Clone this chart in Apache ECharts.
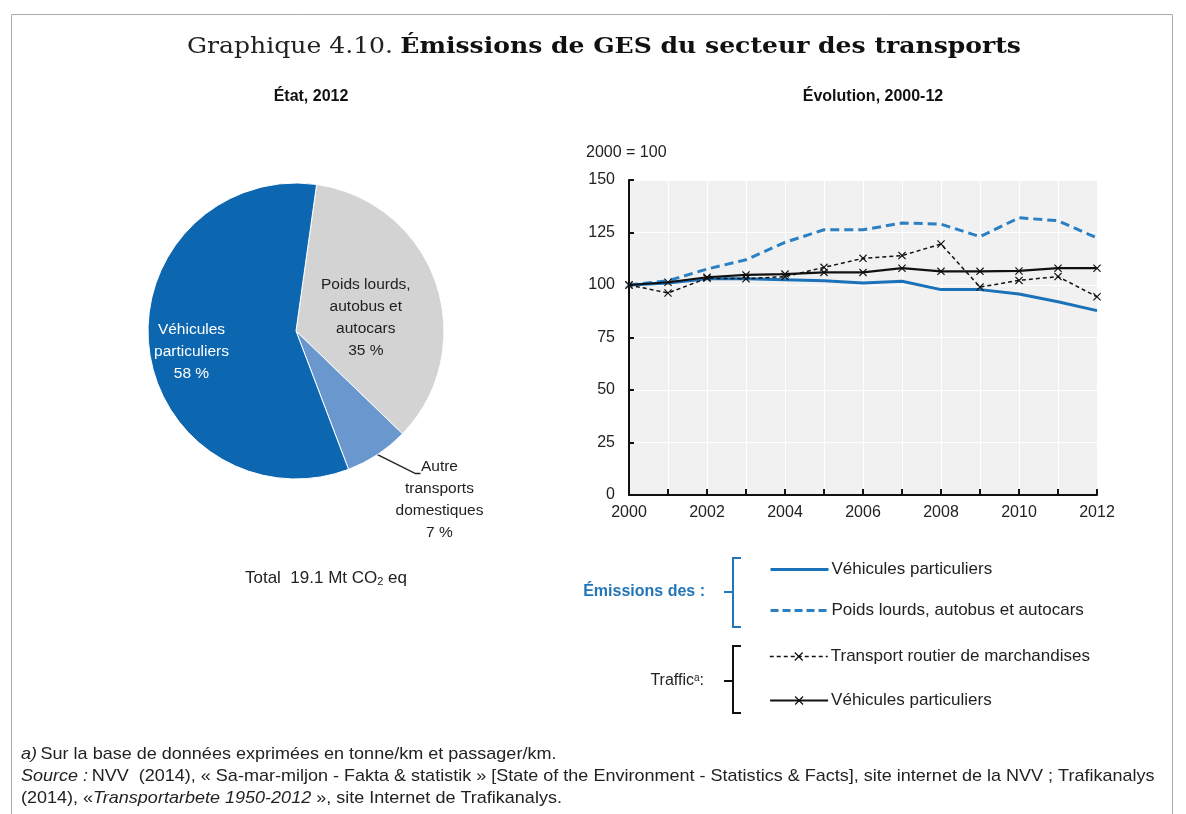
<!DOCTYPE html>
<html><head><meta charset="utf-8">
<script src="https://cdn.jsdelivr.net/npm/echarts@6/dist/echarts.min.js"></script>
<style>html,body{margin:0;padding:0;background:#fff}#c{width:1186px;height:814px}</style>
</head><body><div id="c"></div>
<script>
// ---- Data ----
const years = ['2000','2001','2002','2003','2004','2005','2006','2007','2008','2009','2010','2011','2012'];
const emissionsVehicules = [100, 101, 103, 103, 102.5, 102, 101, 101.8, 97.8, 97.8, 95.7, 92, 87.8];
const emissionsPoidsLourds = [100, 102, 107.6, 112, 120.3, 126.3, 126.3, 129.5, 129, 123, 132, 130.6, 122.4];
const traficMarchandises = [100, 96.2, 103.2, 103, 104, 108.4, 112.7, 114, 119.5, 99, 102.2, 104, 94.4];
const traficVehicules = [100, 101.3, 103.7, 104.8, 105.2, 106, 106, 108, 106.5, 106.5, 106.7, 108, 108];
const pieNames = ['Poids lourds, autobus et autocars', 'Autre transports domestiques', 'Véhicules particuliers'];
const pieLabels = ['Poids lourds,\nautobus et\nautocars\n35 %', 'Autre\ntransports\ndomestiques\n7 %', 'Véhicules\nparticuliers\n58 %'];
const pieValues = [35, 7, 58];
const yMin = 0, yMax = 150, yStep = 25;

const SANS = 'Liberation Sans, Arial, sans-serif';
const SERIF = 'DejaVu Serif, serif';
const X_SYMBOL = 'path://M1,0L5,4L9,0L10,1L6,5L10,9L9,10L5,6L1,10L0,9L4,5L0,1Z';

const seriesNames = ['Véhicules particuliers', 'Poids lourds, autobus et autocars',
  'Transport routier de marchandises', 'Véhicules particuliers\u200b'];

const chart = echarts.init(document.getElementById('c'), null, {renderer: 'canvas'});

const pieColors = ['#d3d3d3', '#6a98ce', '#0d66b0'];
const pieLabelColors = ['#222', '#222', '#fff'];

const pieData = pieNames.map((n, i) => ({
  name: n, value: pieValues[i],
  itemStyle: {color: pieColors[i]},
  label: {
    show: true,
    position: i === 1 ? 'outside' : 'inside',
    formatter: pieLabels[i],
    color: pieLabelColors[i]
  },
  labelLine: {show: i === 1}
}));

const legendRows = [568, 609, 655, 699];
const legendLine = [
  {color: '#1b72b8', width: 3, type: 'solid'},
  {color: '#2b80c3', width: 3, type: [8, 4]},
  {color: '#111', width: 1.5, type: [4, 3]},
  {color: '#111', width: 2.2, type: 'solid'}
];
const legends = seriesNames.map((n, i) => ({
  data: [n], left: 764, top: legendRows[i] - 12, itemWidth: 58, itemHeight: 11,
  selectedMode: false, itemGap: 0,
  itemStyle: i < 2 ? {opacity: 0} : {},
  lineStyle: legendLine[i],
  textStyle: {fontSize: 17, color: '#222', fontFamily: SANS, padding: [0, 0, 0, -2]},
  formatter: name => name.replace('\u200b', '')
}));

const foot = {n: {font: '17px ' + SANS, fill: '#222'}, i: {font: 'italic 17px ' + SANS, fill: '#222'}};

const option = {
  animation: false,
  backgroundColor: '#fff',
  legend: legends,
  grid: {left: 629, right: 89, top: 180, bottom: 319, show: true, backgroundColor: '#f1f1f1', borderWidth: 0, containLabel: false},
  xAxis: {
    type: 'category', data: years, boundaryGap: false,
    axisLine: {lineStyle: {color: '#111', width: 2}},
    axisTick: {inside: true, length: 6, interval: 0, alignWithLabel: true, lineStyle: {color: '#111', width: 2}},
    axisLabel: {interval: 1, fontSize: 16, color: '#222', fontFamily: SANS, margin: 10},
    splitLine: {show: true, interval: 0, lineStyle: {color: '#fff', width: 1}}
  },
  yAxis: {
    type: 'value', min: yMin, max: yMax, interval: yStep,
    axisLine: {show: true, lineStyle: {color: '#111', width: 2}},
    axisTick: {show: true, inside: true, length: 5, lineStyle: {color: '#111', width: 2}},
    axisLabel: {fontSize: 16, color: '#222', fontFamily: SANS, margin: 14},
    splitLine: {show: true, lineStyle: {color: '#fff', width: 1}}
  },
  series: [
    {name: seriesNames[0], type: 'line', data: emissionsVehicules, symbol: 'none', z: 3,
     lineStyle: {color: '#1b72b8', width: 3}, itemStyle: {color: '#1b72b8'}},
    {name: seriesNames[1], type: 'line', data: emissionsPoidsLourds, symbol: 'none', z: 3,
     lineStyle: {color: '#2b80c3', width: 3, type: [9, 5]}, itemStyle: {color: '#2b80c3'}},
    {name: seriesNames[2], type: 'line', data: traficMarchandises, symbol: X_SYMBOL, symbolSize: 8, z: 4,
     lineStyle: {color: '#111', width: 1.5, type: [4, 3]}, itemStyle: {color: '#111'}},
    {name: seriesNames[3], type: 'line', data: traficVehicules, symbol: X_SYMBOL, symbolSize: 8, z: 4,
     lineStyle: {color: '#111', width: 2.2}, itemStyle: {color: '#111'}},
    {name: 'État, 2012', type: 'pie', center: [296, 331], radius: 148, startAngle: 82, clockwise: true,
     data: pieData,
     itemStyle: {borderColor: '#fff', borderWidth: 1},
     label: {fontSize: 15.5, lineHeight: 22, fontFamily: SANS, align: 'center'},
     labelLine: {length: 20, length2: 6, lineStyle: {color: '#222', width: 1.5}},
     labelLayout: function (params) {
       if (params.dataIndex === 0) return {dx: -3, dy: 12};
       if (params.dataIndex === 2) return {dx: -28, dy: 12};
       const p = params.labelLinePoints;
       if (!p) return {};
       const p0 = p[0];
       const p1 = [p0[0] + 38, p0[1] + 19];
       const p2 = [p1[0] + 5, p1[1]];
       return {x: p2[0] + 19, y: p2[1] + 26, align: 'center', verticalAlign: 'middle', labelLinePoints: [p0, p1, p2]};
     }
    }
  ],
  graphic: [
    {type: 'rect', shape: {x: 11.5, y: 14.5, width: 1161, height: 900}, style: {fill: 'none', stroke: '#aaa', lineWidth: 1}, silent: true},
    {type: 'text', x: 604, y: 47, scaleX: 1.09, style: {
      text: '{a|Graphique 4.10.}  {b|Émissions de GES du secteur des transports}',
      rich: {a: {font: '23px ' + SERIF, fill: '#222'}, b: {font: 'bold 23px ' + SERIF, fill: '#111'}},
      textAlign: 'center', textVerticalAlign: 'middle'}},
    {type: 'text', x: 311, y: 97, style: {text: 'État, 2012', font: 'bold 16px ' + SANS, fill: '#111', textAlign: 'center', textVerticalAlign: 'middle'}},
    {type: 'text', x: 873, y: 97, style: {text: 'Évolution, 2000-12', font: 'bold 16px ' + SANS, fill: '#111', textAlign: 'center', textVerticalAlign: 'middle'}},
    {type: 'text', x: 586, y: 153, style: {text: '2000 = 100', font: '16px ' + SANS, fill: '#222', textAlign: 'left', textVerticalAlign: 'middle'}},
    {type: 'text', x: 326, y: 578, style: {
      text: '{n|Total  19.1 Mt CO}{s|2}{n| eq}',
      rich: {n: {font: '17px ' + SANS, fill: '#222'}, s: {font: '11px ' + SANS, fill: '#222', padding: [8, 0, 0, 0]}},
      textAlign: 'center', textVerticalAlign: 'middle'}},
    // legend group labels and brackets
    {type: 'text', x: 705, y: 592, style: {text: 'Émissions des :', font: 'bold 16px ' + SANS, fill: '#2275b8', textAlign: 'right', textVerticalAlign: 'middle'}},
    {type: 'text', x: 704, y: 681, style: {
      text: '{n|Traffic}{s|a}{n|:}',
      rich: {n: {font: '16px ' + SANS, fill: '#222'}, s: {font: '10px ' + SANS, fill: '#222', padding: [0, 0, 6, 0]}},
      textAlign: 'right', textVerticalAlign: 'middle'}},
    {type: 'polyline', shape: {points: [[741, 558], [733, 558], [733, 627], [741, 627]]}, style: {stroke: '#2275b8', lineWidth: 2, fill: 'none'}},
    {type: 'line', shape: {x1: 724, y1: 592, x2: 733, y2: 592}, style: {stroke: '#2275b8', lineWidth: 2}},
    {type: 'polyline', shape: {points: [[741, 646], [733, 646], [733, 713], [741, 713]]}, style: {stroke: '#111', lineWidth: 2, fill: 'none'}},
    {type: 'line', shape: {x1: 724, y1: 681, x2: 733, y2: 681}, style: {stroke: '#111', lineWidth: 2}},
    // footnotes
    {type: 'text', x: 21, y: 754, scaleX: 1.06, style: {
      text: '{i|a)} {n|Sur la base de données exprimées en tonne/km et passager/km.}',
      rich: foot, textVerticalAlign: 'middle'}},
    {type: 'text', x: 21, y: 776, scaleX: 1.06, style: {
      text: '{i|Source :} {n|NVV  (2014), « Sa-mar-miljon - Fakta & statistik » [State of the Environment - Statistics & Facts], site internet de la NVV ; Trafikanalys}',
      rich: foot, textVerticalAlign: 'middle'}},
    {type: 'text', x: 21, y: 798, scaleX: 1.06, style: {
      text: '{n|(2014), «}{i|Transportarbete 1950-2012}{n| », site Internet de Trafikanalys.}',
      rich: foot, textVerticalAlign: 'middle'}}
  ]
};
chart.setOption(option);
</script>
</body></html>
